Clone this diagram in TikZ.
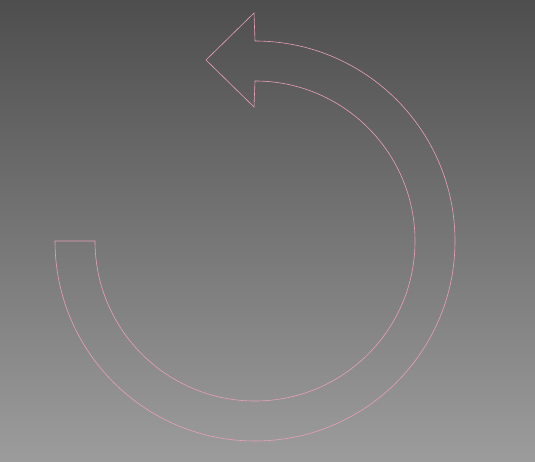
\documentclass[tikz,border=0pt]{standalone}
\begin{document}
\definecolor{bgtop}{RGB}{78,78,78}
\definecolor{bgbot}{RGB}{156,156,156}
\definecolor{arrowpink}{RGB}{232,160,182}
\begin{tikzpicture}[x=1pt, y=1pt]
    \shade [top color=bgtop, bottom color=bgbot] (0, 0) rectangle (535, 461);
    \useasboundingbox (0, 0) rectangle (535, 461);

    \coordinate (c) at (255, 220);
    \coordinate (tip) at (206, 401);

    \draw [arrowpink, line width=0.6pt, line join=miter]
        (55, 220) -- (95, 220)
        arc [start angle=180, end angle=450, radius=160]
        -- (254, 354) -- (tip) -- (254, 448) -- (255, 420)
        arc [start angle=90, end angle=-180, radius=200]
        -- cycle;
\end{tikzpicture}
\end{document}
